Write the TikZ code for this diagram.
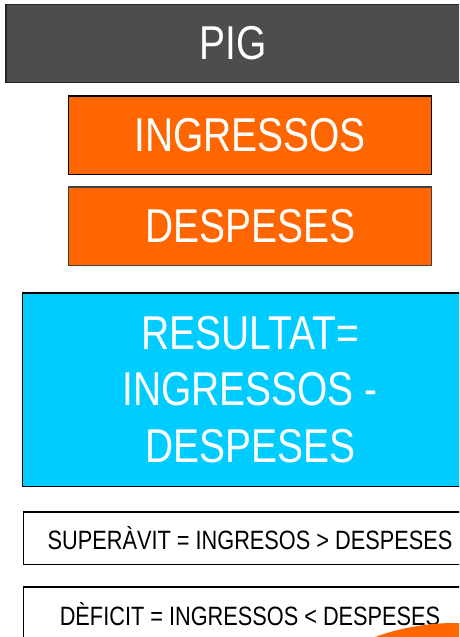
\documentclass[tikz,border=0pt]{standalone}
\usepackage{fontspec}
\setmainfont{Liberation Sans}[FakeStretch=0.82]
\usetikzlibrary{positioning}
\definecolor{pigGray}{HTML}{4D4D4D}
\definecolor{pigOrange}{HTML}{FF6600}
\definecolor{pigCyan}{HTML}{00CCFF}
\tikzset{
box/.style = {rectangle, draw=black, line width=1.5pt,
              inner sep=0pt, align=center},
bigtext/.style = {text=white, font=\fontsize{47.5}{56.5}\selectfont},
smalltext/.style = {text=black, font=\fontsize{26.5}{31}\selectfont}
}

\begin{document}
\begin{tikzpicture}[x=1pt, y=1pt]
        \useasboundingbox (0,0) rectangle (459,-637);
        \clip (0,0) rectangle (459,-637);

        \node[box, bigtext, fill=pigGray, draw=black!85, minimum width=455, minimum height=78] (pig) at (233.5,-43.5) {PIG};
        \node[box, bigtext, fill=pigOrange, minimum width=363, minimum height=78.5] (ingressos) at (250,-135) {INGRESSOS};
        \node[box, bigtext, fill=pigOrange, draw=black!75, minimum width=363, minimum height=78.5, below=11pt of ingressos] (despeses) {DESPESES};
        \node[box, bigtext, fill=pigCyan, minimum width=455, minimum height=193.5, below=26pt of despeses] (resultat) {RESULTAT=\\INGRESSOS -\\DESPESES};
        \node[box, smalltext, fill=white, minimum width=453, minimum height=52.5, below=24pt of resultat] (superavit) {SUPERÀVIT = INGRESOS > DESPESES};
        \node[box, smalltext, fill=white, minimum width=453, minimum height=54, below=21pt of superavit] (deficit) {DÈFICIT = INGRESSOS < DESPESES};

        \fill[pigOrange] (455,-858) circle (235);
\end{tikzpicture}
\end{document}
